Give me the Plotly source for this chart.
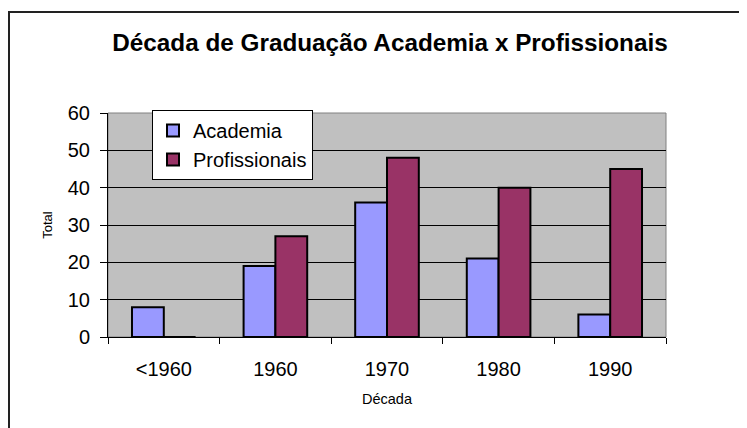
import plotly.graph_objects as go

categories = ["<1960", "1960", "1970", "1980", "1990"]
academia = [8, 19, 36, 21, 6]
profissionais = [0, 27, 48, 40, 45]
y_ticks = [0, 10, 20, 30, 40, 50, 60]

FONT = "Liberation Sans, Arial, sans-serif"

# figure is placed at an 8px body offset in the page
W, H = 747, 428
PL, PR, PT, PB = 100, 658, 105, 329   # plot area in figure px
pw, ph = PR - PL, PB - PT

fig = go.Figure()
fig.add_trace(go.Bar(x=categories, y=academia, name="Academia", legendgroup="a",
                     marker=dict(color="#9999FF", line=dict(color="black", width=2))))
fig.add_trace(go.Bar(x=categories, y=profissionais, name="Profissionais", legendgroup="p",
                     marker=dict(color="#993366", line=dict(color="black", width=2))))

fig.update_layout(
    width=W, height=H,
    margin=dict(l=PL, r=W - PR, t=PT, b=H - PB, autoexpand=False),
    paper_bgcolor="white", plot_bgcolor="#C0C0C0",
    barmode="group", bargap=0.43, bargroupgap=0,
    font=dict(family=FONT, color="black", size=20),
    title=dict(text="<b>Década de Graduação Academia x Profissionais</b>",
               x=382 / W, xanchor="center", y=1 - 34 / H, yanchor="middle",
               font=dict(size=24.3, family=FONT, color="black")),
    legend=dict(x=(144 - PL) / pw, y=(PB - 102) / ph, xanchor="left", yanchor="top",
                bgcolor="white", bordercolor="black", borderwidth=1,
                font=dict(size=20, family=FONT), tracegroupgap=9,
                itemwidth=30, traceorder="normal"),
    showlegend=True,
)
fig.update_xaxes(
    type="category", showline=True, linecolor="black", linewidth=1,
    ticks="outside", tickson="boundaries", ticklen=6, tickcolor="black",
    tickfont=dict(size=20, family=FONT), ticklabelstandoff=14,
    title=dict(text="Década", font=dict(size=14.5, family=FONT), standoff=14),
    showgrid=False,
)
fig.update_yaxes(
    range=[0, 60], tickvals=y_ticks, showline=True, linecolor="black", linewidth=1,
    ticks="outside", ticklen=7, tickcolor="black",
    tickfont=dict(size=20, family=FONT), ticklabelstandoff=6,
    showgrid=True, gridcolor="black", gridwidth=1, zeroline=False,
    title=dict(text="Total", font=dict(size=13, family=FONT), standoff=12),
)
# plot area border (gray)
fig.add_shape(type="rect", xref="paper", yref="paper", x0=0, x1=1, y0=0, y1=1,
              line=dict(color="#808080", width=1), layer="below")
# outer chart border
fig.add_shape(type="rect", xref="paper", yref="paper",
              x0=(1 - PL) / pw, x1=2, y0=-2, y1=(PB - 4) / ph,
              line=dict(color="#222222", width=2))

fig.write_html("out.html")
